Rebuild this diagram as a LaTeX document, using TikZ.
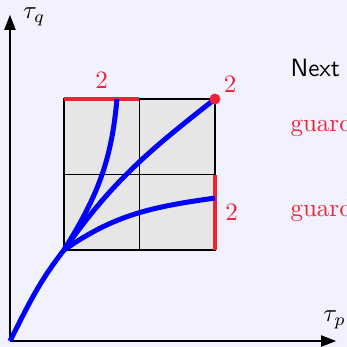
\documentclass[tikz,border=0pt]{standalone}
\usepackage{amsmath, amssymb}
\usepackage{tikz}
\usetikzlibrary{arrows.meta, positioning, calc}
\usepackage{xcolor}
\definecolor{slidebg}{HTML}{F2F2FE}
\definecolor{cellgray}{HTML}{E6E6E6}
\definecolor{guardred}{HTML}{EE2233}
\definecolor{pathblue}{HTML}{0000FF}

\begin{document}
\begin{tikzpicture}[x=1.061cm, y=1.061cm,
      axis/.style={-{Triangle[length=6pt, width=4.5pt]}, line width=0.5pt},
      cell/.style={draw, fill=cellgray, line width=0.5pt},
      path/.style={pathblue, line width=2pt},
      edge/.style={guardred, line width=1.6pt},
      lbl/.style={guardred, font=\normalsize}
    ]
      \fill[slidebg] (-0.132, -0.079) rectangle (4.464, 4.517);
      \useasboundingbox (-0.132, -0.079) rectangle (4.464, 4.517);

      % axes
      \coordinate (o) at (0, 0);
      \coordinate (xend) at (4.32, 0);
      \coordinate (yend) at (0, 4.32);
      \draw[axis] (o) -- (xend);
      \draw[axis] (o) -- (yend);
      \node (tp) at (4.30, 0.28) {$\tau_p$};
      \node (tq) at (0.32, 4.29) {$\tau_q$};

      % grid of cells
      \foreach \i in {0, 1} {
        \foreach \j in {0, 1} {
          \draw[cell] ($(0.715, 1.205) + (\i, \j)$) rectangle ++(1, 1);
        }
      }
      \coordinate (ll) at (0.715, 1.205);
      \coordinate (tl) at (0.715, 3.205);
      \coordinate (tm) at (1.715, 3.205);
      \coordinate (tr) at (2.715, 3.205);
      \coordinate (rm) at (2.715, 2.205);
      \coordinate (br) at (2.715, 1.205);
      \coordinate (topend) at (1.417, 3.205);
      \coordinate (sideend) at (2.715, 1.894);

      % guards
      \draw[edge] (tl) -- node[lbl, above] {$2$} (tm);
      \draw[edge] (br) -- node[lbl, right] {$2$} (rm);

      % paths
      \draw[path] (o) to[out=63, in=232] (ll);
      \draw[path] (ll) to[out=58, in=265] (topend);
      \draw[path] (ll) to[out=55, in=218] (tr);
      \draw[path] (ll) to[out=35, in=188] (sideend);

      \fill[guardred] (tr) circle (2.2pt);
      \node[lbl, above right=-1pt and 0pt of tr] (dotlbl) {$2$};

      % right column text
      \node[anchor=base west, font=\sffamily, inner sep=0pt] (next) at (3.71, 3.50) {Next};
      \node[anchor=base west, guardred, inner sep=0pt] (g1) at (3.71, 2.77) {guard};
      \node[anchor=base west, guardred, inner sep=0pt] (g2) at (3.71, 1.656) {guard};
    \end{tikzpicture}
\end{document}
